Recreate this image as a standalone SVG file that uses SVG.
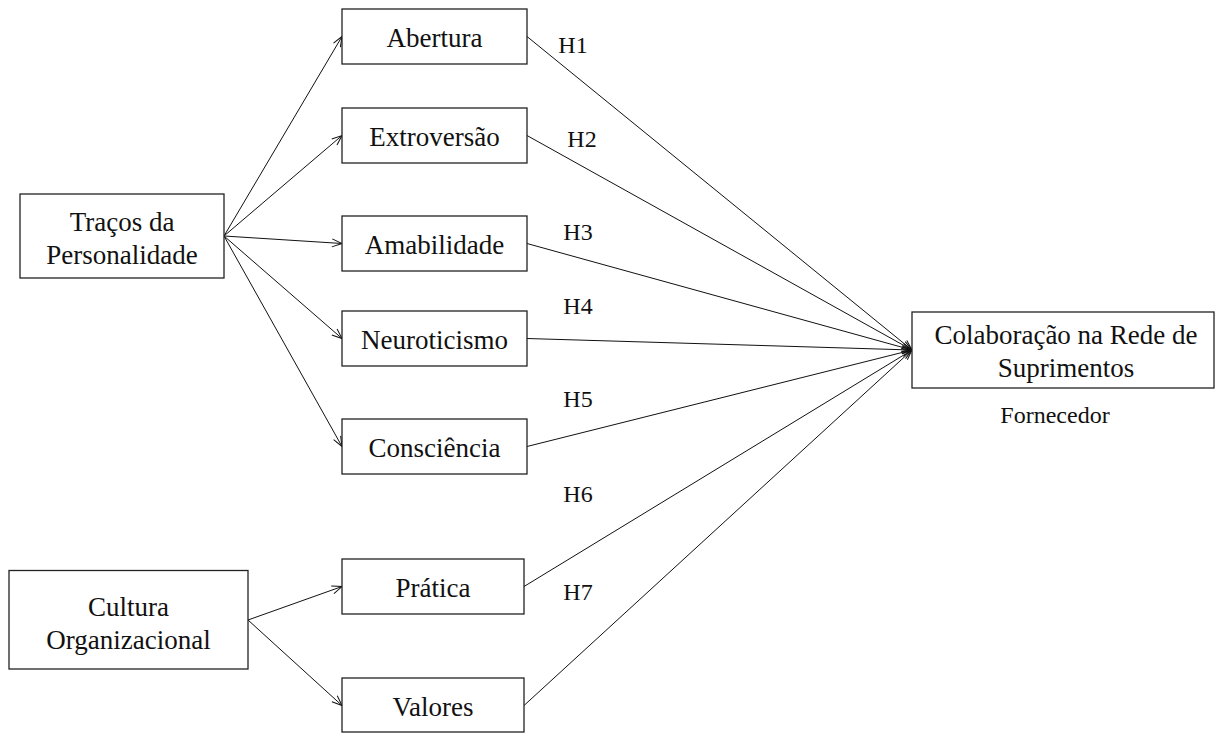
<svg xmlns="http://www.w3.org/2000/svg" width="1215" height="733" viewBox="0 0 1215 733">
<style>
.box{fill:#fff;stroke:#222;stroke-width:1.3}
.t{font-family:"Liberation Serif","Times New Roman",serif;font-size:27px;fill:#111;text-anchor:middle}
.h{font-family:"Liberation Serif","Times New Roman",serif;font-size:24px;fill:#111;text-anchor:middle}
.c{fill:none;stroke:#111;stroke-width:1;marker-end:url(#arr)}
</style>
<defs>
<marker id="arr" markerUnits="userSpaceOnUse" markerWidth="12" markerHeight="10" refX="11" refY="5" orient="auto">
<path d="M1,1 L11,5 L1,9" fill="none" stroke="#111" stroke-width="1"/>
</marker>
</defs>
<rect width="1215" height="733" fill="#fff"/>
<g id="connectors">
<line class="c" x1="224" y1="236" x2="342" y2="36.5"/>
<line class="c" x1="224" y1="236" x2="342" y2="135.5"/>
<line class="c" x1="224" y1="236" x2="342" y2="243.5"/>
<line class="c" x1="224" y1="236" x2="342" y2="338.5"/>
<line class="c" x1="224" y1="236" x2="342" y2="446.5"/>
<line class="c" x1="248" y1="620" x2="342" y2="586.5"/>
<line class="c" x1="248" y1="620" x2="342" y2="705.5"/>
<line class="c" x1="527" y1="36.5" x2="912" y2="350"/>
<line class="c" x1="527" y1="135.5" x2="912" y2="350"/>
<line class="c" x1="527" y1="243.5" x2="912" y2="350"/>
<line class="c" x1="527" y1="338.5" x2="912" y2="350"/>
<line class="c" x1="527" y1="446.5" x2="912" y2="350"/>
<line class="c" x1="524" y1="586.5" x2="912" y2="350"/>
<line class="c" x1="524" y1="705.5" x2="912" y2="350"/>
</g>
<g id="tracos"><rect class="box" x="20" y="194" width="204" height="84"/><text class="t" x="122" y="231">Traços da</text><text class="t" x="122" y="264">Personalidade</text></g>
<g id="cultura"><rect class="box" x="9" y="570.5" width="239" height="98.5"/><text class="t" x="128.5" y="616">Cultura</text><text class="t" x="128.5" y="649">Organizacional</text></g>
<g id="abertura"><rect class="box" x="342" y="9" width="185" height="55"/><text class="t" x="434.5" y="47">Abertura</text></g>
<g id="extroversao"><rect class="box" x="342" y="108" width="185" height="55"/><text class="t" x="434.5" y="146">Extroversão</text></g>
<g id="amabilidade"><rect class="box" x="342" y="216" width="185" height="55"/><text class="t" x="434.5" y="254">Amabilidade</text></g>
<g id="neuroticismo"><rect class="box" x="342" y="311" width="185" height="55"/><text class="t" x="434.5" y="349">Neuroticismo</text></g>
<g id="consciencia"><rect class="box" x="342" y="419" width="185" height="55"/><text class="t" x="434.5" y="457">Consciência</text></g>
<g id="pratica"><rect class="box" x="342" y="559" width="182" height="55"/><text class="t" x="433" y="597">Prática</text></g>
<g id="valores"><rect class="box" x="342" y="678" width="182" height="54"/><text class="t" x="433" y="716">Valores</text></g>
<g id="colaboracao"><rect class="box" x="912" y="312" width="302" height="76"/><text class="t" x="1066" y="344">Colaboração na Rede de</text><text class="t" x="1066" y="377">Suprimentos</text></g>
<g id="labels">
<text class="h" x="573" y="53">H1</text>
<text class="h" x="582" y="147">H2</text>
<text class="h" x="578" y="240">H3</text>
<text class="h" x="578" y="314">H4</text>
<text class="h" x="578" y="407">H5</text>
<text class="h" x="578" y="502">H6</text>
<text class="h" x="578" y="600">H7</text>
<text class="h" x="1055" y="423">Fornecedor</text>
</g>
</svg>
